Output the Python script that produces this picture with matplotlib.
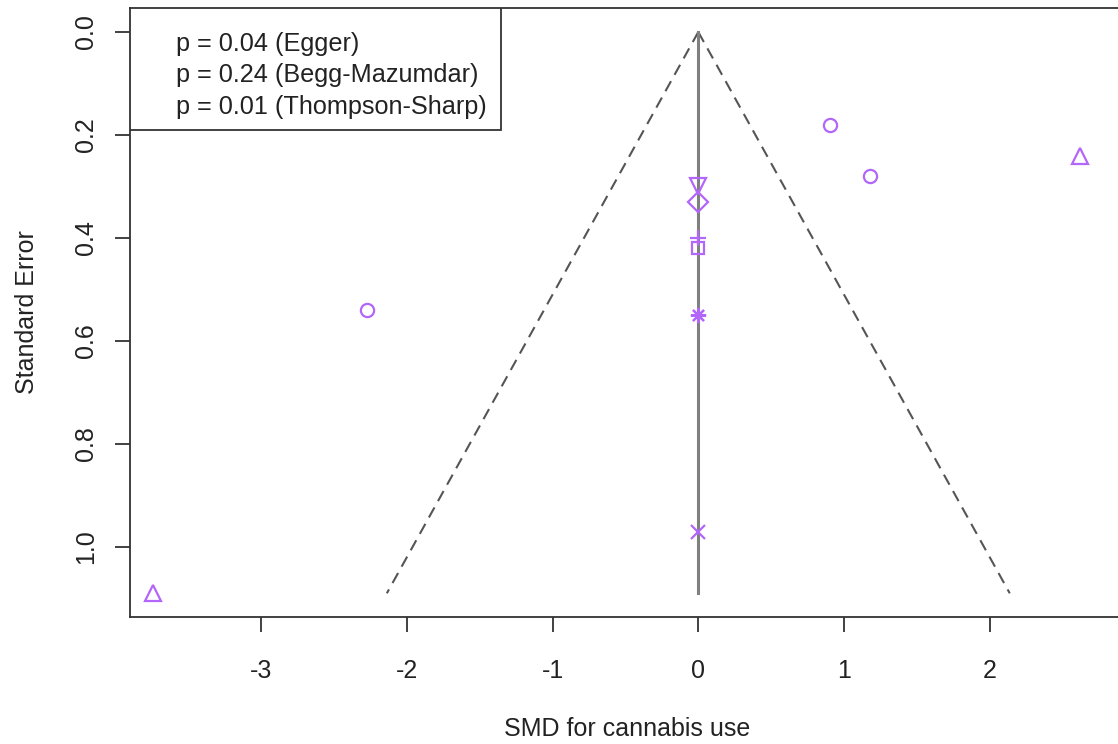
import numpy as np
import matplotlib
matplotlib.use('Agg')
import matplotlib.pyplot as plt
from matplotlib.patches import Rectangle

plt.rcParams['font.family'] = ['Liberation Sans', 'DejaVu Sans']

# study effect sizes (SMD) and their standard errors
smd = [0.90, 1.18, 2.62, -2.27, -3.74, 0.0, 0.0, 0.0, 0.0, 0.0, 0.0]
se = [0.18, 0.28, 0.24, 0.54, 1.09, 0.30, 0.33, 0.40, 0.42, 0.55, 0.97]
symbols = ['o', 'o', '^', 'o', '^', 'v', 'D', '+', 's', (8, 2, 0), 'x']
sizes = [9.5, 9.5, 11, 9.5, 11, 11, 10, 11, 9, 11, 10]

pooled = 0.0
z = 1.96
xticks = [-3, -2, -1, 0, 1, 2]
yticks = [0.0, 0.2, 0.4, 0.6, 0.8, 1.0]
tests = ['p = 0.04 (Egger)', 'p = 0.24 (Begg-Mazumdar)', 'p = 0.01 (Thompson-Sharp)']

purple = '#b366fa'
dark = '#333333'
txt = '#222222'

fig = plt.figure(figsize=(11.18, 7.44), dpi=100)
ax = fig.add_axes([130 / 1118, 1 - 617 / 744, (1124 - 130) / 1118, (617 - 8) / 744])

# funnel: pseudo 95% limits and pooled line
se_max = max(se)
se_line = np.array([0.0, se_max])
ax.plot(pooled - z * se_line, se_line, color='#555555', lw=1.5, ls=(0, (5.5, 3.5)))
ax.plot(pooled + z * se_line, se_line, color='#555555', lw=1.5, ls=(0, (5.5, 3.5)))
ax.plot([pooled, pooled], [0, se_max], color='#808080', lw=2.2)

for x, y, m, s in zip(smd, se, symbols, sizes):
    ax.plot(x, y, linestyle='none', marker=m, markersize=s, markerfacecolor='none',
            markeredgecolor=purple, markeredgewidth=1.6, zorder=3)

ax.set_xlim(-3.898, 2.92)
ax.set_ylim(1.136, -0.0466)

ax.set_xticks(xticks)
ax.set_xticklabels([str(t) for t in xticks])
ax.set_yticks(yticks)
ax.set_yticklabels(['%.1f' % t for t in yticks], rotation=90, va='center')

ax.tick_params(axis='both', direction='out', length=11, width=1.3, colors=dark,
               labelsize=18, labelcolor=txt)
ax.tick_params(axis='x', pad=19)
ax.tick_params(axis='y', pad=12)
for sp in ax.spines.values():
    sp.set_color(dark)
    sp.set_linewidth(1.3)

ax.set_xlabel('SMD for cannabis use', fontsize=18, color=txt, labelpad=25)
ax.set_ylabel('Standard Error', fontsize=18, color=txt, labelpad=25)

# box with the asymmetry test results in the top-left corner
ax.add_patch(Rectangle((0, 0.7997), 0.3732, 0.2003, transform=ax.transAxes,
                       facecolor='white', edgecolor=dark, lw=1.3, zorder=4))
for i, label in enumerate(tests):
    ax.text(0.0463, 0.9409 - i * 0.0517, label, transform=ax.transAxes,
            fontsize=18.2, color=txt, va='center', ha='left', zorder=5)

fig.savefig('out.png', dpi=100, facecolor='white')
